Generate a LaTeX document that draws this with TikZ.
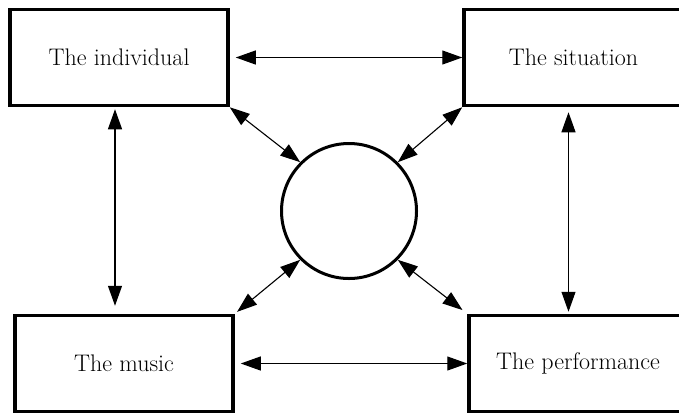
\documentclass[tikz,border=0pt]{standalone}
\usepackage{tikz}
\usetikzlibrary{arrows.meta, calc}

\begin{document}
\begin{tikzpicture}[
	x=1pt, y=-1pt,
	>={Triangle[length=20pt, width=14pt]},
	% Style for the four corner boxes
	factor/.style={
		rectangle,
		draw=black,
		line width=3.5pt,
		minimum width=218pt,
		minimum height=96pt,
		inner sep=0pt,
		font=\fontsize{24}{28}\selectfont
	},
	% Style for the central circle
	hub/.style={
		circle,
		draw=black,
		line width=3pt,
		minimum size=135pt,
		inner sep=0pt
	},
	% Style for the links
	link/.style={
		<->,
		line width=1.1pt
	}
	]
	\useasboundingbox (0,0) rectangle (679,416);
	
	% --- NODES ---
	\node[factor] (indiv) at (119,57.5) {The individual};
	\node[factor, minimum width=219pt] (situ) at (573.5,57.5) {The situation};
	\node[factor] (music) at (124,363.5) {The music};
	\node[factor, minimum width=218pt] (perf) at (578,363.5) {The performance};
	\node[hub] (centre) at (349,211) {};
	
	% helper points for the vertical links
	\coordinate (leftlink) at ($(indiv.south)+(-4,0)$);
	\coordinate (rightlink) at ($(situ.south)+(-5,0)$);
	
	% --- LINKS ---
	% Horizontal
	\draw[link, shorten <=6pt] (indiv.east) -- (situ.west);
	\draw[link, shorten <=6pt] (music.east) -- (perf.west);
	
	% Vertical
	\draw[link, shorten <=2pt, shorten >=8pt] (leftlink) -- (leftlink |- music.north);
	\draw[link, shorten <=5pt, shorten >=2pt] (rightlink) -- (rightlink |- perf.north);
	
	% Diagonal
	\draw[link] (indiv.south east) -- (centre.135);
	\draw[link] (situ.south west) -- (centre.45);
	\draw[link, shorten <=3pt] (music.north east) -- (centre.225);
	\draw[link, shorten <=6pt] (perf.north west) -- (centre.315);
	
\end{tikzpicture}
\end{document}
